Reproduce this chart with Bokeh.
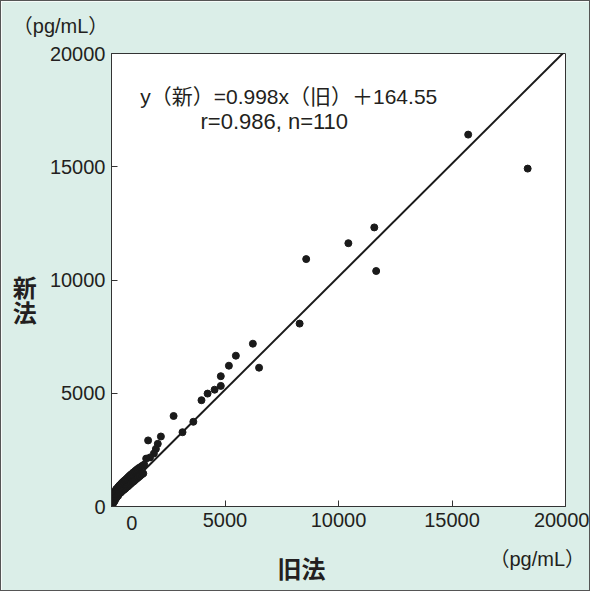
from bokeh.plotting import figure
from bokeh.models import Label, Range1d, FixedTicker
from bokeh.embed import file_html
from bokeh.resources import INLINE

# ---- data (old method x, new method y), pg/mL ----
old_dense = [8, 12, 18, 22, 25, 28, 30, 38, 40, 45, 52, 55, 60, 68, 70, 75, 85, 92, 95, 100,
             110, 115, 120, 130, 140, 150, 152, 165, 178, 190, 200, 205, 218, 230, 245, 250, 260,
             275, 290, 300, 305, 320, 338, 355, 372, 390, 410, 428, 445, 465, 485, 505, 525, 548,
             570, 592, 615, 640, 662, 688, 712, 738, 765, 790, 818, 845, 872, 900, 930, 958, 985,
             1015, 1045, 1078, 1110, 1142, 1175, 1210, 1245, 1280, 1320, 1360, 1400, 1440]
new_dense = [60, 210, 120, 280, 90, 320, 150, 360, 110, 300, 420, 170, 250, 460, 130, 330, 500, 210, 420, 560,
             250, 530, 300, 600, 240, 640, 330, 480, 690, 350, 600, 760, 400, 720, 460, 800, 520,
             820, 470, 860, 540, 880, 560, 930, 600, 960, 620, 1000, 660, 1040, 700, 1080, 730, 1120,
             760, 1160, 800, 1200, 850, 1250, 880, 1300, 930, 1350, 980, 1400, 1030, 1440, 1080, 1500, 1120,
             1540, 1170, 1600, 1230, 1650, 1280, 1700, 1340, 1740, 1400, 1800, 1460, 1850]
old_sparse = [15713, 18334, 11576, 10435, 11660, 8577, 8287, 6228, 5479, 6501, 5172, 4815, 4815,
              4542, 4233, 3964, 2736, 3605, 3128, 2176, 1613, 2039, 1955, 1868, 1700, 1528]
new_sparse = [16419, 14918, 12322, 11625, 10397, 10923, 8075, 7188, 6658, 6128, 6216, 5753, 5325,
              5157, 4985, 4693, 3996, 3740, 3280, 3091, 2918, 2768, 2543, 2340, 2168, 2115]

slope = 0.998
intercept = 164.55
ticks = [0, 5000, 10000, 15000, 20000]
axis_min, axis_max = 0, 20000

equation_text = "y（新）=0.998x（旧）＋164.55"
stats_text = "r=0.986, n=110"
x_title = "旧法"
y_title_chars = ["新", "法"]
unit_text = "（pg/mL）"

BG = "#dbeee8"
INK = "#231f20"
LATIN = "Liberation Sans, Noto Sans CJK JP"
CJK = "Noto Sans CJK JP"

p = figure(width=590, height=591, output_backend="svg", toolbar_location=None,
           x_range=Range1d(axis_min, axis_max), y_range=Range1d(axis_min, axis_max),
           min_border_left=110, min_border_right=26, min_border_top=52, min_border_bottom=86)
p.background_fill_color = "white"
p.border_fill_color = BG
p.outline_line_color = "#333333"
p.outline_line_width = 1
p.grid.visible = False
p.styles = {"border": "1px solid #555555"}

for ax in (p.xaxis[0], p.yaxis[0]):
    ax.ticker = FixedTicker(ticks=ticks)
    ax.minor_tick_line_color = None
    ax.major_tick_in = 6
    ax.major_tick_out = 0
    ax.major_tick_line_color = "#333333"
    ax.axis_line_color = "#333333"
    ax.major_label_text_font = LATIN
    ax.major_label_text_font_size = "20px"
    ax.major_label_text_color = INK
    ax.major_label_standoff = 6
p.xaxis[0].major_label_overrides = {0: ""}

# regression line from the reported equation
xl = [axis_min, axis_max]
yl = [slope * v + intercept for v in xl]
p.line(xl, yl, line_color="#1a1a1a", line_width=2)

p.scatter(old_dense + old_sparse, new_dense + new_sparse, size=7,
          fill_color="#1a1a1a", line_color="#1a1a1a")

def lab(x, y, text, size, font, align="left", bold=False, place="center"):
    p.add_layout(Label(x=x, y=y, text=text, x_units="data", y_units="data",
                       text_font=font, text_font_size=size, text_color=INK,
                       text_align=align, text_baseline="middle",
                       text_font_style="bold" if bold else "normal"), place)

lab(1264, 18090, equation_text, "21px", LATIN)
lab(3920, 16990, stats_text, "22px", LATIN)
# texts outside the frame live in side panels so they are not clipped to the frame
lab(894, -750, "0", "20px", LATIN, align="center", place="left")
lab(8370, -2696, x_title, "24px", CJK, align="center", bold=True, place="below")
lab(-3824, 9700, y_title_chars[0], "24px", CJK, align="center", bold=True, place="left")
lab(-3824, 8596, y_title_chars[1], "24px", CJK, align="center", bold=True, place="right")
lab(-4350, 21214, unit_text, "20px", LATIN, place="above")
lab(16650, -2296, unit_text, "20px", LATIN, place="below")

open("out.html", "w").write(file_html(p, INLINE))
